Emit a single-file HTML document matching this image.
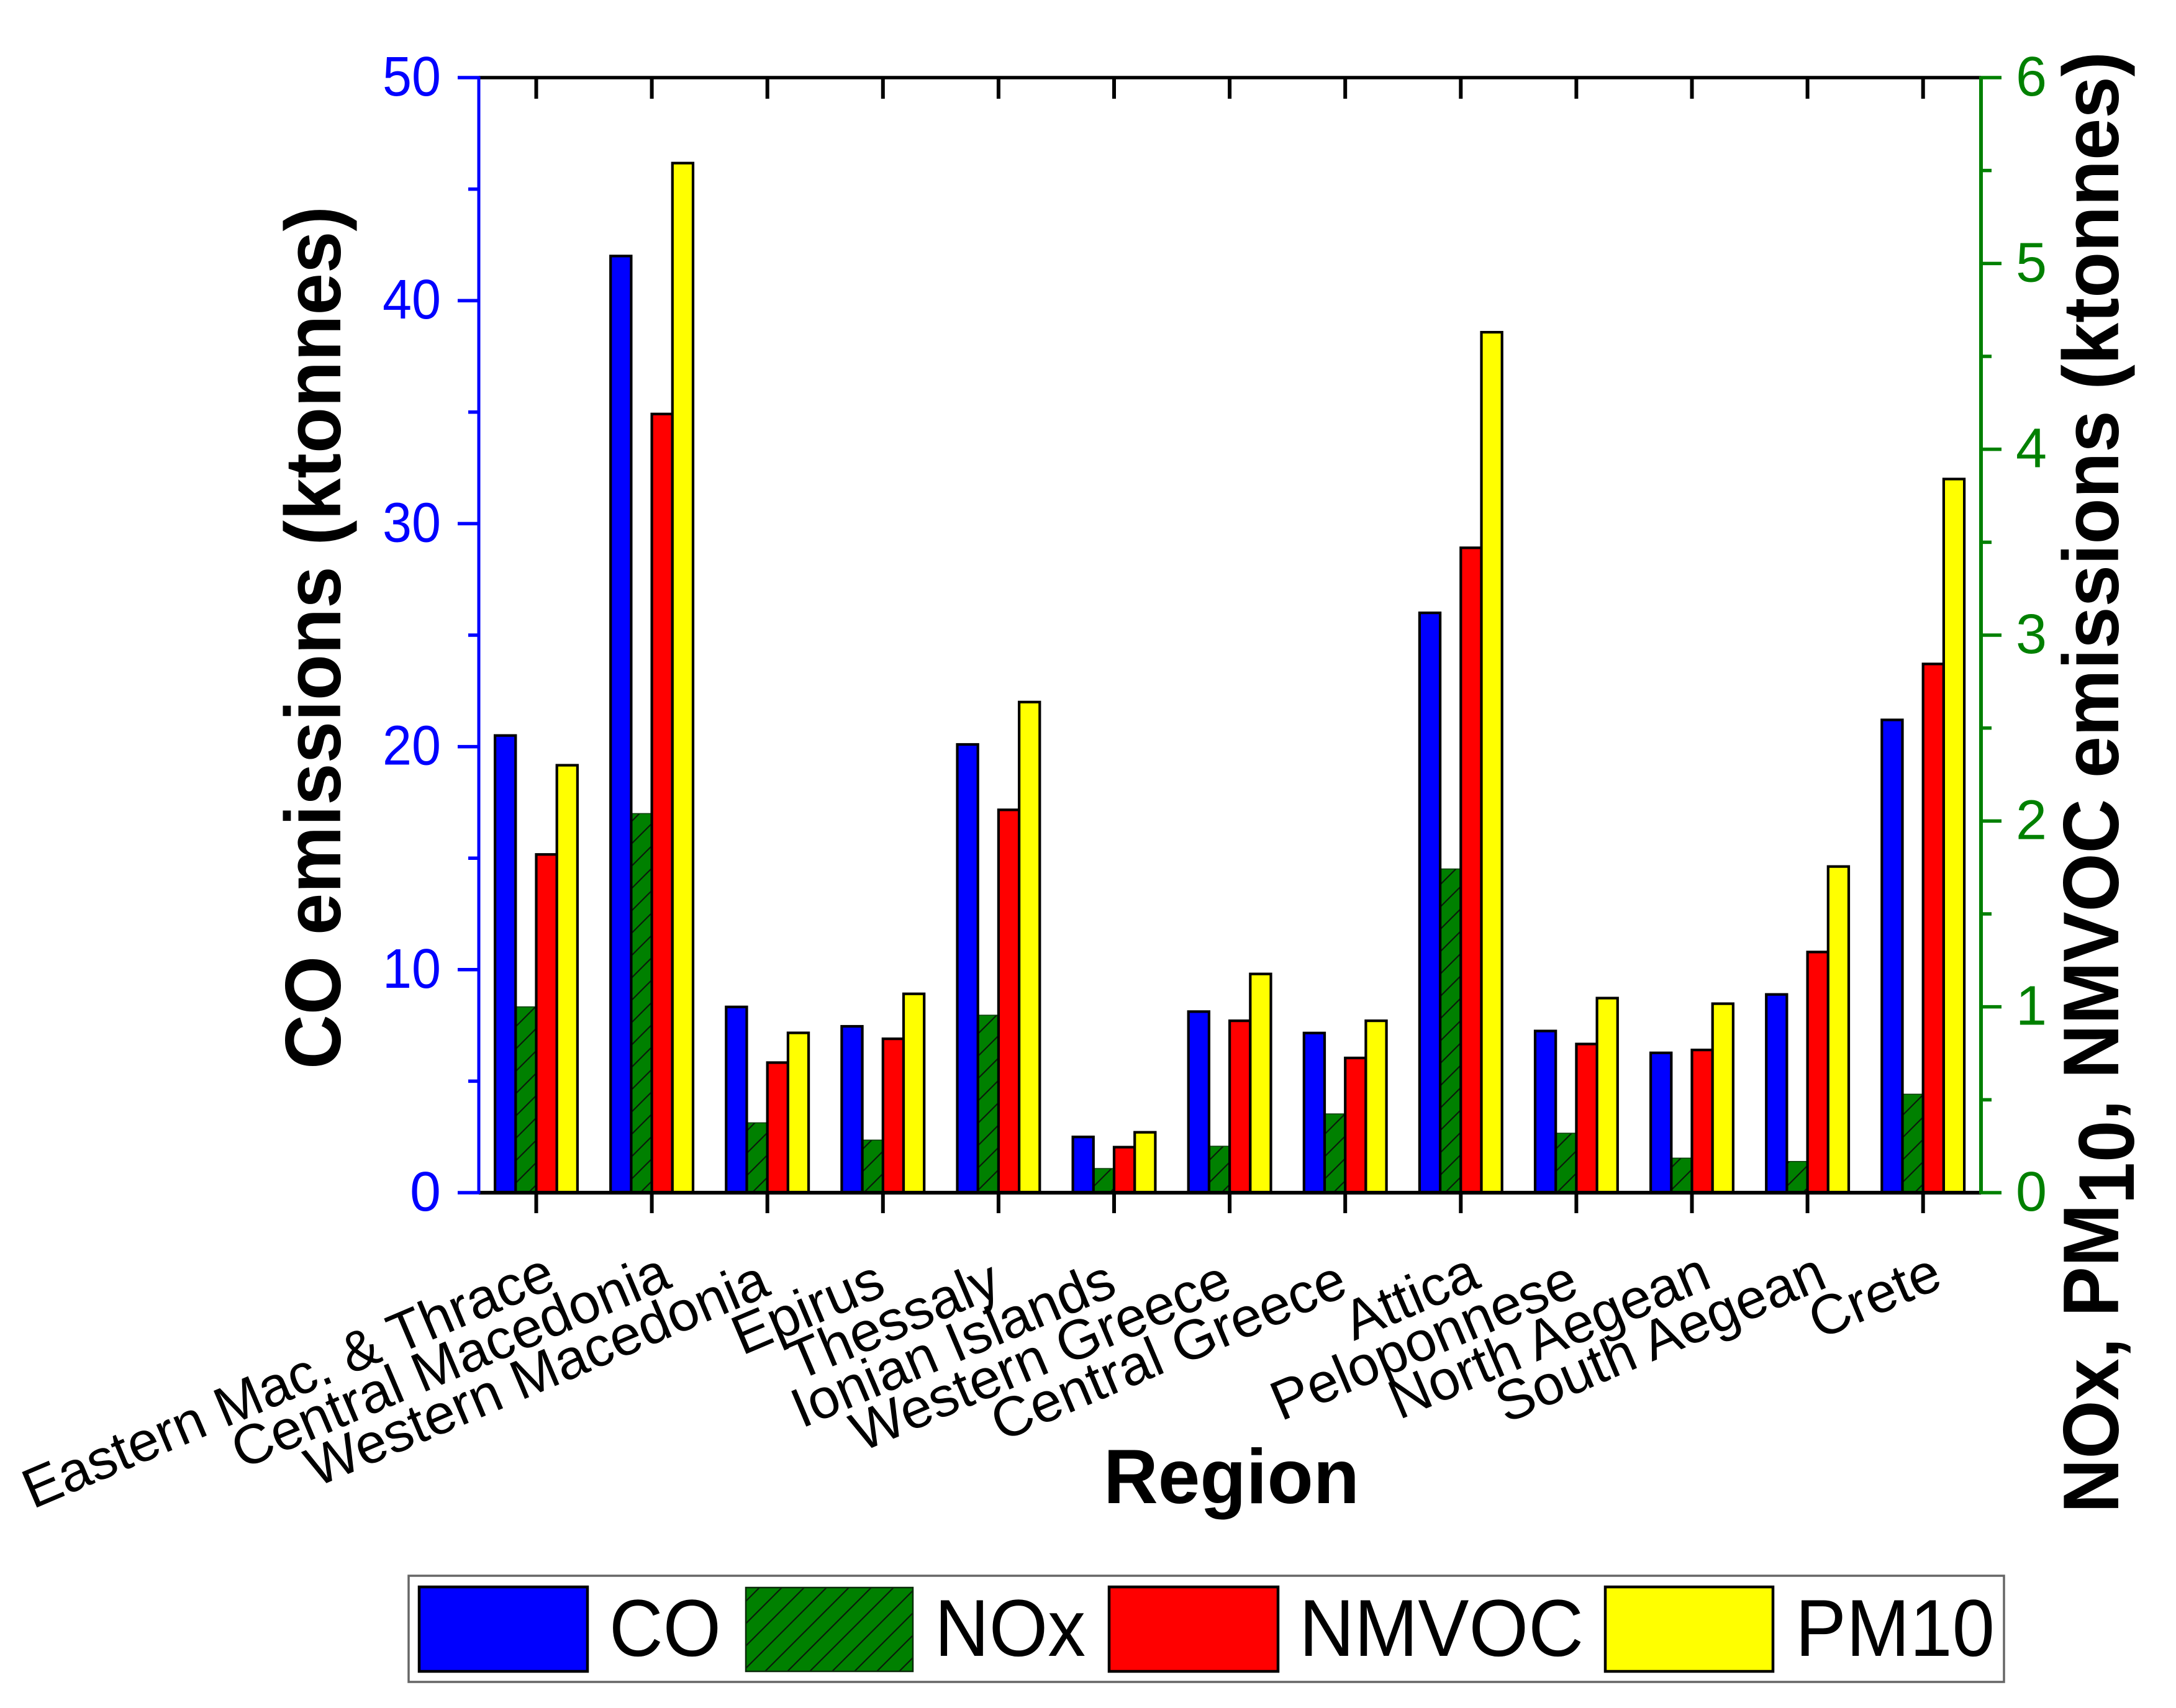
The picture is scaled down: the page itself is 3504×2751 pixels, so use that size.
<!DOCTYPE html>
<html lang="en">
<head>
<meta charset="utf-8">
<title>Emissions by region</title>
<style>
html,body{margin:0;padding:0;background:#fff;}
svg{display:block;font-family:"Liberation Sans",sans-serif;}
</style>
</head>
<body>
<svg id="chart" xmlns="http://www.w3.org/2000/svg" width="3504" height="2751" viewBox="0 0 3504 2751">
  <defs>
    <pattern id="hatch" patternUnits="userSpaceOnUse" width="36" height="36">
      <rect width="36" height="36" fill="#008000"/>
      <path d="M-4 40 L40 -4 M-4 4 L4 -4 M32 40 L40 32" stroke="#0a1a0a" stroke-width="2.2" fill="none"/>
    </pattern>
  </defs>
  <rect width="3504" height="2751" fill="#fff"/>
  <g id="bars"></g>
  <g id="axes"></g>
  <g id="xlabels"></g>

  <text transform="translate(548,1722) rotate(-90)" font-weight="bold" font-size="127" textLength="1390" lengthAdjust="spacingAndGlyphs">CO emissions (ktonnes)</text>
  <text transform="translate(3411,2437) rotate(-90)" font-weight="bold" font-size="127" textLength="2354" lengthAdjust="spacingAndGlyphs">NOx, PM<tspan dy="25">10</tspan><tspan dy="-25">, NMVOC emissions (ktonnes)</tspan></text>
  <text x="1777" y="2421" font-weight="bold" font-size="124" textLength="412" lengthAdjust="spacingAndGlyphs">Region</text>

  <g>
    <rect x="658" y="2538" width="2569" height="171" fill="#fff" stroke="#666" stroke-width="3.5"/>
    <g>
      <rect x="675" y="2556" width="271" height="136" fill="#0000ff" stroke="#000" stroke-width="4.5"/>
      <text x="981" y="2667" font-size="130" textLength="180" lengthAdjust="spacingAndGlyphs">CO</text>
    </g>
    <g>
      <rect x="1201" y="2557" width="269" height="135" fill="url(#hatch)" stroke="#0a2a0a" stroke-width="2.5"/>
      <text x="1505" y="2667" font-size="130" textLength="243" lengthAdjust="spacingAndGlyphs">NOx</text>
    </g>
    <g>
      <rect x="1786" y="2556" width="272" height="136" fill="#ff0000" stroke="#000" stroke-width="4.5"/>
      <text x="2092" y="2667" font-size="130" textLength="458" lengthAdjust="spacingAndGlyphs">NMVOC</text>
    </g>
    <g>
      <rect x="2585" y="2556" width="270" height="136" fill="#ffff00" stroke="#000" stroke-width="4.5"/>
      <text x="2891" y="2667" font-size="130" textLength="321" lengthAdjust="spacingAndGlyphs">PM10</text>
    </g>
  </g>
</svg>
<script>
const categories = ["Eastern Mac. & Thrace","Central Macedonia","Western Macedonia","Epirus","Thessaly","Ionian Islands","Western Greece","Central Greece","Attica","Peloponnese","North Aegean","South Aegean","Crete"];
const coValues = [20.5,42.0,8.33,7.46,20.1,2.5,8.12,7.16,26.0,7.25,6.27,8.89,21.2];
const noxValues = [1.0,2.04,0.376,0.283,0.955,0.13,0.25,0.424,1.742,0.32,0.186,0.168,0.53];
const nmvocValues = [1.82,4.19,0.70,0.828,2.06,0.245,0.925,0.725,3.47,0.80,0.768,1.295,2.845];
const pm10Values = [2.30,5.54,0.86,1.07,2.64,0.325,1.177,0.925,4.63,1.047,1.017,1.755,3.84];
const leftTickLabels = [0,10,20,30,40,50];
const leftMinorTicks = [5,15,25,35,45];
const rightTickLabels = [0,1,2,3,4,5,6];
const rightMinorTicks = [0.5,1.5,2.5,3.5,4.5,5.5];
const labelOffsetFar = new Set(["Eastern Mac. & Thrace","Central Macedonia","Attica","North Aegean","South Aegean","Crete"]);

const svg = document.getElementById('chart');
const NS = 'http://www.w3.org/2000/svg';
const plot = {left:771,right:3190,top:125,bottom:1921,firstTick:863.5,step:186.1,barW:33.2};
const leftMax = 50, rightMax = 6;
function yLeft(v){return plot.bottom-(v/leftMax)*(plot.bottom-plot.top);}
function yRight(v){return plot.bottom-(v/rightMax)*(plot.bottom-plot.top);}
function xCat(i){return plot.firstTick+i*plot.step;}
function make(tag,attrs,parent){
  const e=document.createElementNS(NS,tag);
  for(const k in attrs)e.setAttribute(k,attrs[k]);
  parent.appendChild(e);
  return e;
}
function slug(s){return s.toLowerCase().replace(/[^a-z0-9]+/g,'-').replace(/^-|-$/g,'');}

const barsG=document.getElementById('bars');
const axesG=document.getElementById('axes');
const labelsG=document.getElementById('xlabels');

function drawSeries(name,values,scale,offset,fill,stroke,sw){
  values.forEach(function(v,i){
    const x=xCat(i)+offset*plot.barW;
    const y=scale(v);
    const r=make('rect',{x:x,y:y,width:plot.barW,height:plot.bottom-y,fill:fill,stroke:stroke,'stroke-width':sw},barsG);
    
    
  });
}
drawSeries('nox',noxValues,yRight,-1,'url(#hatch)','#0a3a0a',1.5);
drawSeries('co',coValues,yLeft,-2,'#0000ff','#000',4.2);
drawSeries('nmvoc',nmvocValues,yRight,0,'#ff0000','#000',4.2);
drawSeries('pm10',pm10Values,yRight,1,'#ffff00','#000',4.2);

function axisLine(name,x1,y1,x2,y2,color,w){
  const l=make('line',{x1:x1,y1:y1,x2:x2,y2:y2,stroke:color,'stroke-width':w},axesG);
  
  
}
axisLine('top-axis-line',plot.left,plot.top,plot.right,plot.top,'#000',5.5);
axisLine('bottom-axis-line',plot.left,plot.bottom,plot.right,plot.bottom,'#000',6);
axisLine('left-axis-line',plot.left,plot.top-2,plot.left,plot.bottom+2,'#0000ff',5);
axisLine('right-axis-line',plot.right,plot.top-2,plot.right,plot.bottom+2,'#008000',6);

categories.forEach(function(c,i){
  const x=xCat(i);
  axisLine('top-tick-'+slug(c),x,plot.top,x,plot.top+34,'#000',6);
  axisLine('bottom-tick-'+slug(c),x,plot.bottom,x,plot.bottom+33,'#000',6);
  const far=labelOffsetFar.has(c);
  const ax=x+(far?35:8);
  const ay=far?2072:2084;
  const t=make('text',{x:0,y:0,'text-anchor':'end','font-size':90,transform:'translate('+ax+','+ay+') rotate(-23)'},labelsG);
  
  
  t.textContent=c;
});

leftTickLabels.forEach(function(v){
  const y=yLeft(v);
  axisLine('left-tick-'+v,plot.left-34,y,plot.left,y,'#0000ff',5.5);
  const t=make('text',{x:710,y:y+29,'text-anchor':'end','font-size':90,fill:'#0000ff',textLength:v===0?50:94,lengthAdjust:'spacingAndGlyphs'},axesG);
  
  
  t.textContent=v;
});
leftMinorTicks.forEach(function(v){
  const y=yLeft(v);
  axisLine('left-minor-tick-'+v,plot.left-17,y,plot.left,y,'#0000ff',5.5);
});
rightTickLabels.forEach(function(v){
  const y=yRight(v);
  axisLine('right-tick-'+v,plot.right,y,plot.right+33,y,'#008000',5.5);
  const t=make('text',{x:3246,y:y+29,'font-size':90,fill:'#008000'},axesG);
  
  
  t.textContent=v;
});
rightMinorTicks.forEach(function(v){
  const y=yRight(v);
  axisLine('right-minor-tick-'+v,plot.right,y,plot.right+17,y,'#008000',5.5);
});
</script>
</body>
</html>
